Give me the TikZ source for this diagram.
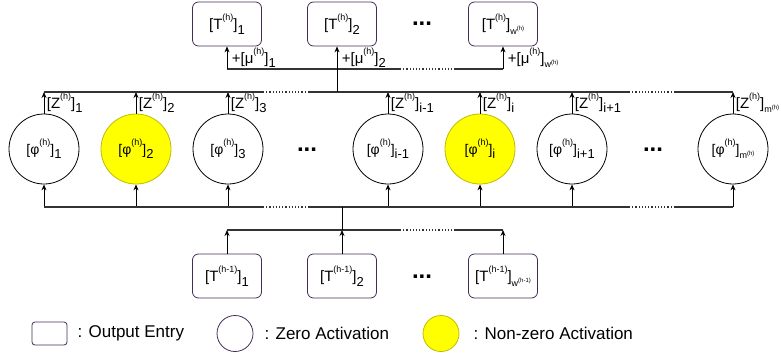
\documentclass[tikz,border=0pt]{standalone}
\usepackage{fontspec}
\setmainfont{Liberation Sans}
\usetikzlibrary{arrows.meta,positioning,calc}
\definecolor{boxc}{HTML}{432D57}
\definecolor{onfill}{HTML}{FFFF00}
\definecolor{ondraw}{HTML}{BDBD00}
\definecolor{busc}{HTML}{333333}
% bracketed entries with (h) superscript and index subscript
\newcommand{\hsup}[1]{\raisebox{0.6em}{\fontsize{9}{9}\selectfont(#1)}}
\newcommand{\hsub}[1]{\raisebox{-0.3em}{\fontsize{13}{13}\selectfont #1}}
\newcommand{\hsubw}[2]{\raisebox{-0.3em}{\fontsize{9}{9}\selectfont #1\raisebox{0.35em}{\fontsize{6}{6}\selectfont(#2)}}}
\newcommand{\hdots}{\textbf{\fontsize{24}{24}\selectfont ...}}

\begin{document}
\begin{tikzpicture}[x=1pt, y=-1pt,
  font=\fontsize{15}{15}\selectfont,
  box/.style={draw=boxc, rounded corners=6pt, minimum width=69pt, minimum height=44pt, inner sep=0pt, line width=0.8pt},
  act/.style={circle, draw=black, minimum size=70pt, inner sep=0pt, line width=0.8pt, font=\fontsize{14}{14}\selectfont},
  on/.style={act, fill=onfill, draw=ondraw},
  bus/.style={draw=busc, line width=1.2pt},
  dotbus/.style={bus, dotted},
  arr/.style={-{Stealth[length=6pt, width=5pt]}, line width=0.8pt},
  lab/.style={anchor=west, inner sep=1pt, xshift=1.5pt},
  legend/.style={font=\fontsize{17}{17}\selectfont, inner sep=1pt}]
\useasboundingbox (0,0) rectangle (781,356);
\coordinate (ub) at (0,69);
\coordinate (tb) at (0,92);
\coordinate (bb) at (0,207);
\coordinate (lb) at (0,230);

% output entries of layer h
\node[box] (t1) at (227,24) {[T\hsup{h}]\hsub{1}};
\node[box] (t2) at (342,24) {[T\hsup{h}]\hsub{2}};
\node[box] (t3) at (503,24) {[T\hsup{h}]\hsubw{w}{h}};
\node (td) at (422,24) {\hdots};

% activations
\foreach \n/\x/\s/\f in {p1/44/1/act, p2/136/2/on, p3/228/3/act, p4/388/i-1/act, p5/480/i/on, p6/572/i+1/act}
  \node[\f] (\n) at (\x,149) {[φ\hsup{h}]\hsub{\s}};
\node[act] (p7) at (733,149) {[φ\hsup{h}]\hsubw{m}{h}};
\node (pd1) at (307,150) {\hdots};
\node (pd2) at (653,150) {\hdots};

% output entries of layer h-1
\node[box] (b1) at (227,276) {[T\hsup{h-1}]\hsub{1}};
\node[box] (b2) at (342,276) {[T\hsup{h-1}]\hsub{2}};
\node[box] (b3) at (503,276) {[T\hsup{h-1}]\hsubw{w}{h-1}};
\node (bd) at (422,277) {\hdots};

% activation outputs
\foreach \n/\s in {p1/1, p2/2, p3/3, p4/i-1, p5/i, p6/i+1}
  \draw[arr] (\n.north) -- node[lab]{[Z\hsup{h}]\hsub{\s}} (\n.north |- tb);
\draw[arr] (p7.north) -- node[lab]{[Z\hsup{h}]\hsubw{m}{h}} (p7.north |- tb);
\foreach \n in {p1,p2,p3,p4,p5,p6,p7}
  \draw[arr] (\n.south |- bb) -- (\n.south);

% buses
\draw[bus] (p1.north |- tb) -- (263,92);
\draw[dotbus] (263,92) -- (308,92);
\draw[bus] (308,92) -- (629,92);
\draw[dotbus] (629,92) -- (675,92);
\draw[bus] (675,92) -- (p7.north |- tb);
\draw[bus] (p1.south |- bb) -- (263,207);
\draw[dotbus] (263,207) -- (308,207);
\draw[bus] (308,207) -- (629,207);
\draw[dotbus] (629,207) -- (675,207);
\draw[bus] (675,207) -- (p7.south |- bb);

% top fan-out with biases
\coordinate (jt) at (337,92);
\draw[bus] (t1.south |- ub) -- (400,69);
\draw[dotbus] (400,69) -- (455,69);
\draw[bus] (455,69) -- (t3.south |- ub);
\draw[arr] (t1.south |- ub) -- node[lab, xshift=2pt]{+[μ\hsup{h}]\hsub{1}} (t1.south);
\draw[arr] (jt) -- node[lab, xshift=2pt, pos=0.75]{+[μ\hsup{h}]\hsub{2}} (jt |- t2.south);
\draw[arr] (t3.south |- ub) -- node[lab, xshift=2pt]{+[μ\hsup{h}]\hsubw{w}{h}} (t3.south);

% bottom fan-in
\draw[bus] (b1.north |- lb) -- (400,230);
\draw[dotbus] (400,230) -- (455,230);
\draw[bus] (455,230) -- (b3.north |- lb);
\draw[arr] (b1.north) -- (b1.north |- lb);
\draw[arr] (b2.north) -- (b2.north |- lb);
\draw[arr] (b3.north) -- (b3.north |- lb);
\draw[line width=0.8pt] (b2.north |- lb) -- (b2.north |- bb);

% legend
\node[box, minimum width=35pt, minimum height=23pt, rounded corners=3pt] (lg1) at (49.5,333.5) {};
\node[legend, right=9pt of lg1] (lgt1) {: Output Entry};
\node[circle, draw=boxc, line width=0.8pt, minimum size=36pt, inner sep=0pt] (lg2) at (235,333.5) {};
\node[legend, right=10pt of lg2] (lgt2) {: Zero Activation};
\node[circle, draw=ondraw, fill=onfill, line width=0.8pt, minimum size=36pt, inner sep=0pt] (lg3) at (441,333.5) {};
\node[legend, right=13pt of lg3] (lgt3) {: Non-zero Activation};
\end{tikzpicture}
\end{document}
